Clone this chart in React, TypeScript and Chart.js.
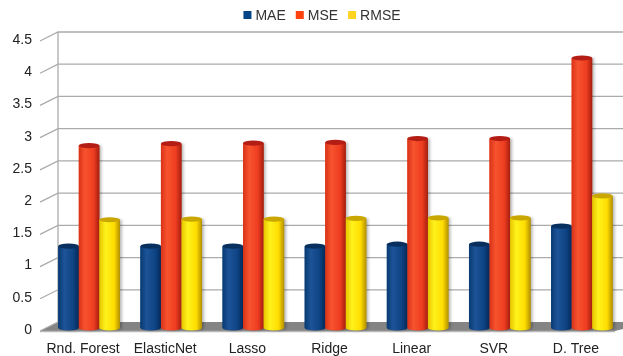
import React, { useEffect, useRef } from "react";
import { Chart, registerables } from "chart.js";

Chart.register(...registerables);

const categories = ["Rnd. Forest", "ElasticNet", "Lasso", "Ridge", "Linear", "SVR", "D. Tree"];
const maeValues = [1.27, 1.27, 1.27, 1.27, 1.3, 1.3, 1.58];
const mseValues = [2.83, 2.86, 2.87, 2.88, 2.94, 2.94, 4.19];
const rmseValues = [1.68, 1.69, 1.69, 1.7, 1.71, 1.71, 2.05];
const seriesNames = ["MAE", "MSE", "RMSE"];
const yMax = 4.5;
const yStep = 0.5;

const FONT = "'Liberation Sans', Arial, sans-serif";

// base colour, cylinder shading stops, top cap colour
const palettes = [
  { base: "#004586", stops: ["#083a72", "#1d5498", "#0e4484", "#05295a"], cap: "#082f5e" },
  { base: "#ff420e", stops: ["#d93218", "#f7532e", "#ee3d20", "#a61e10"], cap: "#b41d14" },
  { base: "#ffd320", stops: ["#e6c400", "#fff21c", "#ffdd00", "#b39000"], cap: "#c9a700" },
];

// depth offsets (px) of the front and back planes relative to the bar plane
const FRONT_DX = -8;
const FRONT_DY = 3;
const BACK_DX = 10;
const BACK_DY = -6;

const wallPlugin = {
  id: "wall3d",
  beforeDatasetsDraw(chart: any) {
    const { ctx, chartArea, scales, width } = chart;
    const y = scales.y;
    const fl = chartArea.left + FRONT_DX;
    const bl = chartArea.left + BACK_DX;
    const fr = chartArea.right + FRONT_DX;
    const y0 = y.getPixelForValue(0);
    ctx.save();
    // floor
    ctx.beginPath();
    ctx.moveTo(fl, y0 + FRONT_DY);
    ctx.lineTo(bl, y0 + BACK_DY);
    ctx.lineTo(width + 30, y0 + BACK_DY);
    ctx.lineTo(fr, y0 + FRONT_DY);
    ctx.closePath();
    ctx.fillStyle = "#848484";
    ctx.fill();
    ctx.beginPath();
    ctx.moveTo(fl, y0 + FRONT_DY + 0.5);
    ctx.lineTo(fr, y0 + FRONT_DY + 0.5);
    ctx.strokeStyle = "#b8b8b8";
    ctx.lineWidth = 1.5;
    ctx.stroke();

    // back wall grid and left wall diagonals
    ctx.strokeStyle = "#ababab";
    ctx.lineWidth = 1.3;
    for (let v = 0; v <= yMax + 1e-9; v += yStep) {
      const py = y.getPixelForValue(v);
      ctx.beginPath();
      ctx.moveTo(fl, py + FRONT_DY);
      ctx.lineTo(bl, py + BACK_DY);
      if (v > 0) ctx.lineTo(width, py + BACK_DY);
      ctx.stroke();
    }
    ctx.beginPath();
    ctx.moveTo(bl, y.getPixelForValue(yMax) + BACK_DY);
    ctx.lineTo(bl, y0 + BACK_DY);
    ctx.stroke();
    ctx.restore();
  },
  afterDatasetsDraw(chart: any) {
    const { ctx } = chart;
    ctx.save();
    chart.data.datasets.forEach((_ds: any, di: number) => {
      const meta = chart.getDatasetMeta(di);
      const pal = palettes[di];
      meta.data.forEach((bar: any) => {
        const { x, y, base, width } = bar.getProps(["x", "y", "base", "width"], true);
        const l = x - width / 2;
        const r = x + width / 2;
        const ry = 2.6;
        const g = ctx.createLinearGradient(l, 0, r, 0);
        g.addColorStop(0, pal.stops[0]);
        g.addColorStop(0.3, pal.stops[1]);
        g.addColorStop(0.72, pal.stops[2]);
        g.addColorStop(1, pal.stops[3]);
        ctx.save();
        ctx.shadowColor = "rgba(0,0,0,0.28)";
        ctx.shadowBlur = 3;
        ctx.shadowOffsetX = 2;
        ctx.beginPath();
        ctx.moveTo(l, y);
        ctx.lineTo(l, base);
        ctx.ellipse(x, base, width / 2, ry, 0, Math.PI, 0, true);
        ctx.lineTo(r, y);
        ctx.closePath();
        ctx.fillStyle = g;
        ctx.fill();
        ctx.restore();
        ctx.beginPath();
        ctx.ellipse(x, y, width / 2, ry, 0, 0, Math.PI * 2);
        ctx.fillStyle = pal.cap;
        ctx.fill();
      });
    });
    ctx.restore();
  },
  afterDraw(chart: any) {
    // series legend centred above the plot
    const { ctx } = chart;
    ctx.save();
    ctx.font = `14px ${FONT}`;
    ctx.textBaseline = "middle";
    const box = 8;
    const gap = 4;
    const itemGap = 10;
    const names = chart.data.datasets.map((d: any) => d.label as string);
    const widths = names.map((n: string) => box + gap + ctx.measureText(n).width);
    const total = widths.reduce((a: number, b: number) => a + b, 0) + itemGap * (names.length - 1);
    const cy = 15;
    let x = 322 - total / 2;
    names.forEach((n: string, i: number) => {
      ctx.fillStyle = palettes[i].base;
      ctx.fillRect(x, cy - box / 2, box, box);
      ctx.fillStyle = "#333333";
      ctx.fillText(n, x + box + gap, cy + 1);
      x += widths[i] + itemGap;
    });
    ctx.restore();
  },
};

export default function App() {
  const canvasRef = useRef<HTMLCanvasElement | null>(null);

  useEffect(() => {
    document.body.style.margin = "0";
    const canvas = canvasRef.current;
    if (!canvas) return;
    Chart.defaults.font.family = FONT;
    const valueSets = [maeValues, mseValues, rmseValues];
    const chart = new Chart(canvas, {
      type: "bar",
      data: {
        labels: categories,
        datasets: seriesNames.map((name, i) => ({
          label: name,
          data: valueSets[i],
          backgroundColor: palettes[i].base,
          borderWidth: 0,
          categoryPercentage: 0.75,
          barPercentage: 1.0,
        })),
      },
      options: {
        responsive: false,
        animation: false,
        layout: { padding: { top: 38, right: 0, left: 0, bottom: 0 } },
        plugins: {
          legend: { display: false },
          tooltip: { enabled: false },
        },
        scales: {
          x: {
            grid: { display: false, drawTicks: false },
            border: { display: false },
            ticks: { labelOffset: -6, padding: 13, color: "#222222", font: { size: 14 } },
            afterFit(scale: any) {
              scale.height = 28;
            },
          },
          y: {
            min: 0,
            max: yMax,
            grid: { display: false, drawTicks: false },
            border: { display: false },
            ticks: {
              stepSize: yStep,
              padding: 16,
              labelOffset: 2,
              color: "#222222",
              font: { size: 14 },
              callback: (v: any) => String(Number(v)),
            },
            afterFit(scale: any) {
              scale.width = 48;
            },
          },
        },
      },
      plugins: [wallPlugin],
    });
    return () => chart.destroy();
  }, []);

  return (
    <div style={{ width: 623, height: 356 }}>
      <canvas ref={canvasRef} width={623} height={356} style={{ display: "block" }} />
    </div>
  );
}
